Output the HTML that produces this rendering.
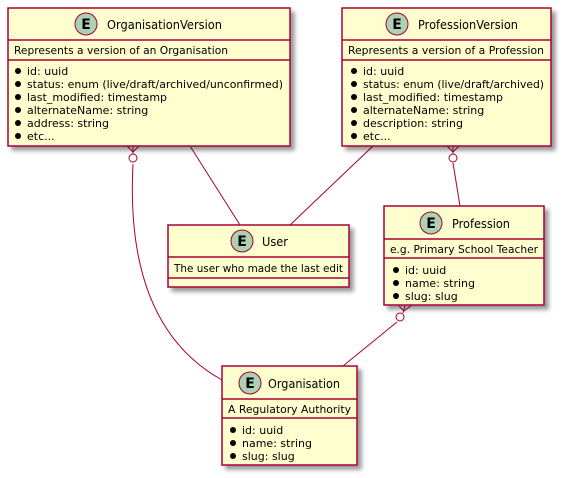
<!DOCTYPE html>
<html><head><meta charset="utf-8"><style>body{margin:0;background:#fff}svg{display:block}text{font-family:"DejaVu Sans","Liberation Sans",sans-serif;fill:#000}</style></head><body>
<svg width="563" height="478" viewBox="0 0 563 478" xmlns="http://www.w3.org/2000/svg">
<defs><filter id="sh" x="-10%" y="-10%" width="130%" height="130%"><feGaussianBlur in="SourceAlpha" stdDeviation="2"/><feOffset dx="4" dy="4"/><feComponentTransfer><feFuncA type="linear" slope="0.4"/></feComponentTransfer><feMerge><feMergeNode/><feMergeNode in="SourceGraphic"/></feMerge></filter></defs>
<g stroke="#A80036" fill="none" stroke-width="1">
<path d="M133,164 C128,260 150,340 222,380"/>
<path d="M127,146 L133,152 L139,146 M133,146 L133,154"/><circle cx="133" cy="158" r="4" fill="#fff"/>
<line x1="190" y1="146" x2="240" y2="225"/>
<line x1="373" y1="146" x2="290" y2="225"/>
<line x1="453" y1="163" x2="460" y2="206"/>
<path d="M447,146 L453,152 L459,146 M453,146 L453,154"/><circle cx="453" cy="158" r="4" fill="#fff"/>
<line x1="397" y1="322" x2="343" y2="366"/>
<path d="M399,306 L404,311 L412,305 M405,306 L403,313"/><circle cx="400" cy="317" r="4" fill="#fff"/>
</g>
<g stroke="#A80036" stroke-width="1.5" fill="#FEFECE" filter="url(#sh)">
<rect x="8" y="8" width="282" height="138"/>
<rect x="342" y="8" width="209" height="138"/>
<rect x="168" y="225" width="181" height="62"/>
<rect x="384" y="206" width="160" height="99"/>
<rect x="222" y="366" width="135" height="99"/>
</g>
<g stroke="#A80036" stroke-width="1.5">
<line x1="8" y1="40" x2="290" y2="40"/><line x1="8" y1="60" x2="290" y2="60"/>
<line x1="342" y1="40" x2="551" y2="40"/><line x1="342" y1="60" x2="551" y2="60"/>
<line x1="168" y1="257" x2="349" y2="257"/><line x1="168" y1="278" x2="349" y2="278"/>
<line x1="384" y1="239" x2="544" y2="239"/><line x1="384" y1="258" x2="544" y2="258"/>
<line x1="222" y1="399" x2="357" y2="399"/><line x1="222" y1="418" x2="357" y2="418"/>
</g>
<g stroke="#A80036" fill="#ADD1B2">
<circle cx="86" cy="24" r="11"/><circle cx="397" cy="24" r="11"/><circle cx="242" cy="241" r="11"/><circle cx="431" cy="223" r="11"/><circle cx="250" cy="383" r="11"/>
</g>
<g font-weight="bold" font-size="14" text-anchor="middle" style="font-family:'Liberation Sans',sans-serif">
<text x="86" y="29">E</text><text x="397" y="29">E</text><text x="242" y="246">E</text><text x="431" y="228">E</text><text x="250" y="388">E</text>
</g>
<g font-size="12.5" lengthAdjust="spacingAndGlyphs">
<text x="107" y="29" textLength="115" lengthAdjust="spacingAndGlyphs">OrganisationVersion</text>
<text x="418" y="29" textLength="100" lengthAdjust="spacingAndGlyphs">ProfessionVersion</text>
<text x="262" y="246" textLength="26" lengthAdjust="spacingAndGlyphs">User</text>
<text x="452" y="228" textLength="58" lengthAdjust="spacingAndGlyphs">Profession</text>
<text x="268" y="388" textLength="72" lengthAdjust="spacingAndGlyphs">Organisation</text>
</g>
<g font-size="11">
<text x="14" y="54" textLength="214" lengthAdjust="spacingAndGlyphs">Represents a version of an Organisation</text>
<text x="348" y="54" textLength="196" lengthAdjust="spacingAndGlyphs">Represents a version of a Profession</text>
<text x="174" y="272" textLength="169" lengthAdjust="spacingAndGlyphs">The user who made the last edit</text>
<text x="390" y="253" textLength="148" lengthAdjust="spacingAndGlyphs">e.g. Primary School Teacher</text>
<text x="228" y="413" textLength="123" lengthAdjust="spacingAndGlyphs">A Regulatory Authority</text>
<text x="27" y="75">id: uuid</text><text x="27" y="88" textLength="256" lengthAdjust="spacingAndGlyphs">status: enum (live/draft/archived/unconfirmed)</text><text x="27" y="101">last_modified: timestamp</text><text x="27" y="114">alternateName: string</text><text x="27" y="127">address: string</text><text x="27" y="140">etc...</text>
<text x="363" y="75">id: uuid</text><text x="363" y="88" textLength="181" lengthAdjust="spacingAndGlyphs">status: enum (live/draft/archived)</text><text x="363" y="101">last_modified: timestamp</text><text x="363" y="114">alternateName: string</text><text x="363" y="127">description: string</text><text x="363" y="140">etc...</text>
<text x="405" y="274">id: uuid</text><text x="405" y="287">name: string</text><text x="405" y="300">slug: slug</text>
<text x="242" y="434">id: uuid</text><text x="242" y="447">name: string</text><text x="242" y="460">slug: slug</text>
</g>
<g fill="#000">
<circle cx="18" cy="71" r="3"/><circle cx="18" cy="84" r="3"/><circle cx="18" cy="97" r="3"/><circle cx="18" cy="110" r="3"/><circle cx="18" cy="123" r="3"/><circle cx="18" cy="136" r="3"/>
<circle cx="354" cy="71" r="3"/><circle cx="354" cy="84" r="3"/><circle cx="354" cy="97" r="3"/><circle cx="354" cy="110" r="3"/><circle cx="354" cy="123" r="3"/><circle cx="354" cy="136" r="3"/>
<circle cx="396" cy="270" r="3"/><circle cx="396" cy="283" r="3"/><circle cx="396" cy="296" r="3"/>
<circle cx="233" cy="430" r="3"/><circle cx="233" cy="443" r="3"/><circle cx="233" cy="456" r="3"/>
</g>
</svg>
</body></html>
